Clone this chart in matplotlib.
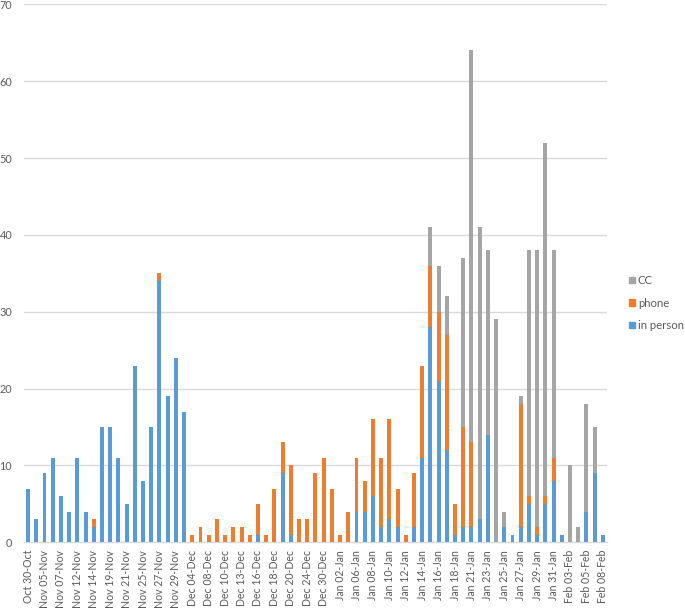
import matplotlib
matplotlib.use("Agg")
import matplotlib.pyplot as plt
import numpy as np
from matplotlib.patches import Patch

tick_labels = ["Oct 30-Oct", "Nov 05-Nov", "Nov 07-Nov", "Nov 12-Nov", "Nov 14-Nov",
               "Nov 19-Nov", "Nov 21-Nov", "Nov 25-Nov", "Nov 27-Nov", "Nov 29-Nov",
               "Dec 04-Dec", "Dec 08-Dec", "Dec 10-Dec", "Dec 13-Dec", "Dec 16-Dec",
               "Dec 18-Dec", "Dec 20-Dec", "Dec 24-Dec", "Dec 30-Dec", "Jan 02-Jan",
               "Jan 06-Jan", "Jan 08-Jan", "Jan 10-Jan", "Jan 12-Jan", "Jan 14-Jan",
               "Jan 16-Jan", "Jan 18-Jan", "Jan 21-Jan", "Jan 23-Jan", "Jan 25-Jan",
               "Jan 27-Jan", "Jan 29-Jan", "Jan 31-Jan", "Feb 03-Feb", "Feb 05-Feb",
               "Feb 08-Feb"]

in_person = [7, 3, 9, 11, 6, 4, 11, 4, 2, 15,
             15, 11, 5, 23, 8, 15, 34, 19, 24, 17,
             0, 0, 0, 0, 0, 0, 0, 0, 1, 0,
             0, 9, 1, 0, 0, 0, 0, 0, 0, 0,
             4, 4, 6, 2, 3, 2, 0, 2, 11, 28,
             21, 12, 1, 2, 2, 3, 14, 0, 2, 1,
             2, 5, 1, 5, 8, 1, 0, 0, 4, 9,
             1]
phone = [0, 0, 0, 0, 0, 0, 0, 0, 1, 0,
         0, 0, 0, 0, 0, 0, 1, 0, 0, 0,
         1, 2, 1, 3, 1, 2, 2, 1, 4, 1,
         7, 4, 9, 3, 3, 9, 11, 7, 1, 4,
         7, 4, 10, 9, 13, 5, 1, 7, 12, 8,
         9, 15, 4, 13, 11, 0, 0, 0, 0, 0,
         16, 1, 1, 1, 3, 0, 0, 0, 0, 0,
         0]
cc = [0, 0, 0, 0, 0, 0, 0, 0, 0, 0,
      0, 0, 0, 0, 0, 0, 0, 0, 0, 0,
      0, 0, 0, 0, 0, 0, 0, 0, 0, 0,
      0, 0, 0, 0, 0, 0, 0, 0, 0, 0,
      0, 0, 0, 0, 0, 0, 0, 0, 0, 5,
      6, 5, 0, 22, 51, 38, 24, 29, 2, 0,
      1, 32, 36, 46, 27, 0, 10, 2, 14, 6,
      0]

plt.rcParams['font.family'] = ['Lato', 'DejaVu Sans']

c_blue = "#5B9BD5"
c_orange = "#ED7D31"
c_gray = "#A5A5A5"
txt = "#595959"

fig = plt.figure(figsize=(6.85, 6.09), dpi=100)
ax = fig.add_axes([0.035, 0.1095, 0.851, 0.8834])

x = np.arange(len(in_person))
ip = np.array(in_person)
ph = np.array(phone)
c = np.array(cc)
w = 0.48
ax.bar(x, ip, width=w, color=c_blue, zorder=3)
ax.bar(x, ph, width=w, bottom=ip, color=c_orange, zorder=3)
ax.bar(x, c, width=w, bottom=ip + ph, color=c_gray, zorder=3)

ax.set_xlim(-0.5, len(x) - 0.5)
ax.set_ylim(0, 70)
ax.set_yticks(range(0, 71, 10))
ax.set_xticks(x[::2])
ax.set_xticklabels(tick_labels, rotation=90, fontsize=7.6, color=txt)
ax.tick_params(axis='y', labelsize=7.8, labelcolor=txt, length=0, pad=8.5)
ax.tick_params(axis='x', length=0, pad=5.5)
ax.grid(axis='y', color="#D9D9D9", linewidth=1, zorder=0)
for s in ['top', 'right', 'left']:
    ax.spines[s].set_visible(False)
ax.spines['bottom'].set_color("#D9D9D9")
ax.spines['bottom'].set_linewidth(1)

handles = [Patch(color=c_gray, label='CC'),
           Patch(color=c_orange, label='phone'),
           Patch(color=c_blue, label='in person')]
leg = fig.legend(handles=handles, loc='upper left', bbox_to_anchor=(0.918, 0.548),
                 frameon=False, fontsize=8.2, handlelength=0.5, handleheight=0.5,
                 handletextpad=0.3, labelspacing=1.0, borderaxespad=0, borderpad=0)
for t in leg.get_texts():
    t.set_color(txt)

fig.savefig("out.png", dpi=100)
